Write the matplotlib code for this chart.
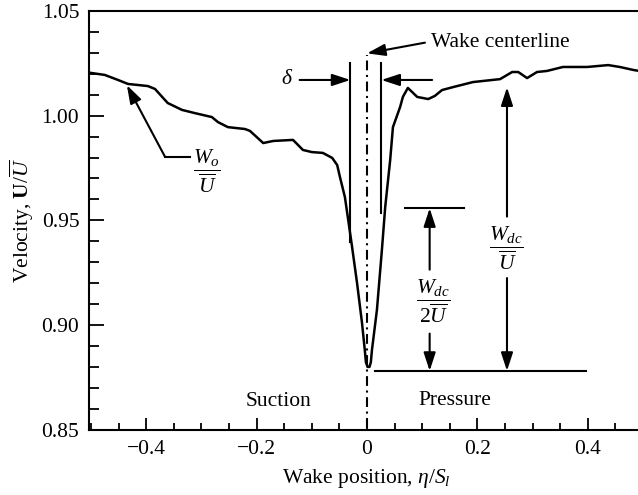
import matplotlib
matplotlib.use("Agg")
import matplotlib.pyplot as plt
from matplotlib.ticker import MultipleLocator

plt.rcParams["font.family"] = ["Liberation Serif", "DejaVu Serif"]
plt.rcParams["mathtext.fontset"] = "custom"
plt.rcParams["mathtext.rm"] = "Liberation Serif"
plt.rcParams["mathtext.it"] = "Liberation Serif:italic"
plt.rcParams["mathtext.bf"] = "Liberation Serif:bold"

# Measured wake velocity profile downstream of the blade row
wake_x = [-0.5036, -0.475, -0.451, -0.433, -0.397, -0.384, -0.371, -0.361,
          -0.335, -0.312, -0.281, -0.270, -0.252, -0.221, -0.212, -0.188,
          -0.170, -0.134, -0.116, -0.100, -0.080, -0.063, -0.054, -0.049,
          -0.040, -0.034, -0.027, -0.018, -0.009, -0.004, -0.002, 0.001,
          0.0045, 0.007, 0.009, 0.018, 0.027, 0.033, 0.042, 0.047, 0.060,
          0.065, 0.074, 0.082, 0.091, 0.111, 0.123, 0.136, 0.156, 0.192,
          0.241, 0.263, 0.274, 0.290, 0.308, 0.326, 0.355, 0.399, 0.437,
          0.458, 0.482, 0.500]
wake_u = [1.0205, 1.0194, 1.0170, 1.0151, 1.0141, 1.0127, 1.0089, 1.0060,
          1.0027, 1.0012, 0.9993, 0.9969, 0.9945, 0.9936, 0.9927, 0.9869,
          0.9879, 0.9884, 0.9836, 0.9826, 0.9822, 0.9798, 0.9764, 0.9707,
          0.9611, 0.9502, 0.9373, 0.9201, 0.9010, 0.8882, 0.8824, 0.8801,
          0.8801, 0.8824, 0.8882, 0.9073, 0.9359, 0.9564, 0.9788, 0.9945,
          1.0041, 1.0089, 1.0132, 1.0112, 1.0089, 1.0079, 1.0094, 1.0122,
          1.0136, 1.0160, 1.0174, 1.0208, 1.0208, 1.0179, 1.0208, 1.0213,
          1.0232, 1.0232, 1.0241, 1.0232, 1.0218, 1.0210]

# Annotation geometry (data units)
delta_left, delta_right = -0.030, 0.026
delta_top = 1.0249
delta_left_bottom, delta_right_bottom = 0.9398, 0.9535
delta_arrow_u = 1.017
min_level = 0.8782
half_level = 0.9558
wo_tip = (-0.435, 1.0145)

x_ticks = [-0.4, -0.2, 0.0, 0.2, 0.4]
x_tick_labels = ["\u22120.4", "\u22120.2", "0", "0.2", "0.4"]
y_ticks = [0.85, 0.90, 0.95, 1.00, 1.05]
y_tick_labels = ["0.85", "0.90", "0.95", "1.00", "1.05"]

W, H = 638, 495
fig = plt.figure(figsize=(W / 100, H / 100), dpi=100)
ax = fig.add_axes([89 / W, (H - 430) / H, (643 - 89) / W, (430 - 10.8) / H])

FS = 15.5
LW = 1.5

ax.plot(wake_x, wake_u, color="black", lw=1.8, solid_joinstyle="round")

ax.set_xlim(-0.5036, 0.5)
ax.set_ylim(0.85, 1.05)
ax.set_xticks(x_ticks)
ax.set_xticklabels(x_tick_labels)
ax.set_yticks(y_ticks)
ax.set_yticklabels(y_tick_labels)
ax.xaxis.set_minor_locator(MultipleLocator(0.05))
ax.yaxis.set_minor_locator(MultipleLocator(0.01))
ax.tick_params(which="both", direction="in", top=False, right=False,
               labelsize=FS, width=1.3, pad=7)
ax.tick_params(axis="x", which="major", length=9)
ax.tick_params(axis="x", which="minor", length=5)
ax.tick_params(axis="y", which="major", length=11)
ax.tick_params(axis="y", which="minor", length=7.5)
for s in ax.spines.values():
    s.set_linewidth(LW)

ax.set_xlabel(r"Wake position, $\eta/S_l$", fontsize=FS, labelpad=6)
ax.set_ylabel(r"Velocity, $\mathbf{U}/\overline{U}$", fontsize=FS, labelpad=4)

arrow_kw = dict(arrowstyle="-|>,head_length=0.55,head_width=0.18",
                mutation_scale=20, lw=LW, color="black",
                shrinkA=0, shrinkB=0)

# Wake centerline
ax.plot([0, 0], [0.851, 1.029], color="black", lw=LW,
        linestyle=(0, (4.7, 2.2, 1.0, 2.2)))
ax.annotate("", xy=(0.0, 1.0297), xytext=(0.105, 1.0348), arrowprops=arrow_kw)
ax.text(0.116, 1.0348, "Wake centerline", fontsize=FS, va="center", ha="left")

# Wake width delta
ax.plot([delta_left, delta_left], [delta_left_bottom, delta_top], color="black", lw=LW)
ax.plot([delta_right, delta_right], [delta_right_bottom, delta_top], color="black", lw=LW)
ax.annotate("", xy=(delta_left, delta_arrow_u), xytext=(-0.122, delta_arrow_u),
            arrowprops=arrow_kw)
ax.annotate("", xy=(delta_right, delta_arrow_u), xytext=(0.118, delta_arrow_u),
            arrowprops=arrow_kw)
ax.text(-0.145, delta_arrow_u, r"$\delta$", fontsize=FS, va="center", ha="center")

# Free-stream velocity label
ax.annotate("", xy=wo_tip, xytext=(-0.366, 0.9804), arrowprops=arrow_kw)
ax.plot([-0.366, -0.321], [0.9804, 0.9804], color="black", lw=LW)
ax.text(-0.290, 0.9735, r"$\dfrac{W_o}{\overline{U}}$", fontsize=FS,
        ha="center", va="center")

# Velocity deficit at the wake centre
ax.plot([0.014, 0.397], [min_level, min_level], color="black", lw=LW)
ax.plot([0.068, 0.175], [half_level, half_level], color="black", lw=LW)
ax.annotate("", xy=(0.1135, half_level), xytext=(0.1135, 0.9265), arrowprops=arrow_kw)
ax.annotate("", xy=(0.1135, min_level), xytext=(0.1135, 0.8960), arrowprops=arrow_kw)
ax.text(0.121, 0.9112, r"$\dfrac{W_{dc}}{2\overline{U}}$", fontsize=FS,
        ha="center", va="center")

ax.annotate("", xy=(0.2536, 1.0135), xytext=(0.2536, 0.9518), arrowprops=arrow_kw)
ax.annotate("", xy=(0.2536, min_level), xytext=(0.2536, 0.9225), arrowprops=arrow_kw)
ax.text(0.252, 0.9364, r"$\dfrac{W_{dc}}{\overline{U}}$", fontsize=FS,
        ha="center", va="center")

ax.text(-0.161, 0.8635, "Suction", fontsize=FS, ha="center", va="center")
ax.text(0.159, 0.8643, "Pressure", fontsize=FS, ha="center", va="center")

fig.savefig("out.png", dpi=100)
